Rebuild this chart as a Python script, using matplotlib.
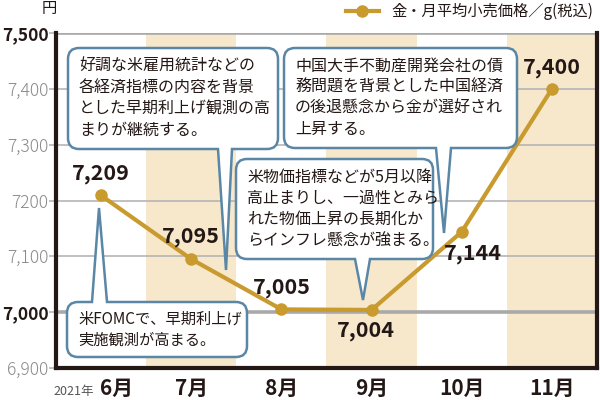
import matplotlib
matplotlib.use("Agg")
import matplotlib.pyplot as plt
from matplotlib.path import Path
from matplotlib.patches import PathPatch, Rectangle
from matplotlib.transforms import Affine2D, ScaledTranslation

plt.rcParams['font.family'] = ['Noto Sans CJK JP', 'DejaVu Sans']

months = ['6月', '7月', '8月', '9月', '10月', '11月']
prices = [7209, 7095, 7005, 7004, 7144, 7400]
price_labels = ['7,209', '7,095', '7,005', '7,004', '7,144', '7,400']
label_offsets = [(0, 16), (0, 16), (0, 16), (-4, -15), (8, -16), (0, 15)]
yticks = [6900, 7000, 7100, 7200, 7300, 7400, 7500]
ytick_labels = ['6,900', '7,000', '7,100', '7200', '7,300', '7,400', '7,500']
bold_ticks = [7000, 7500]
legend_text = '金・月平均小売価格／g(税込)'

notes = [
    '好調な米雇用統計などの\n各経済指標の内容を背景\nとした早期利上げ観測の高\nまりが継続する。',
    '中国大手不動産開発会社の債\n務問題を背景とした中国経済\nの後退懸念から金が選好され\n上昇する。',
    '米物価指標などが5月以降\n高止まりし、一過性とみら\nれた物価上昇の長期化か\nらインフレ懸念が強まる。',
    '米FOMCで、早期利上げ\n実施観測が高まる。',
]
note_sizes = [11.5, 11.5, 11.5, 11]

gold = '#c99a2e'
shade = '#f7e8cc'
edge = '#5a87a6'

fig = plt.figure(figsize=(6, 4), dpi=100)
ax = fig.add_axes([56 / 600, 1 - 368 / 400, 541 / 600, 335 / 400])

x = list(range(len(months)))
for i in x:
    if i % 2 == 1:
        ax.add_patch(Rectangle((i - 0.5, 6900), 1, 600, color=shade, zorder=0, lw=0))

for t in yticks:
    if t in bold_ticks:
        ax.axhline(t, color='#a9a9a9', lw=2.6, zorder=1)
    else:
        ax.axhline(t, color='#b5b5b5', lw=1.2, zorder=1)

ax.plot(x, prices, color=gold, lw=3, marker='o', ms=8, zorder=3)
for xi, p, lab, off in zip(x, prices, price_labels, label_offsets):
    ax.annotate(lab, (xi, p), xytext=off, textcoords='offset points',
                ha='center', va='center', fontsize=15.5, fontweight='bold',
                color='#231815', zorder=4)

ax.set_xlim(-0.5, 5.5)
ax.set_ylim(6900, 7500)
ax.set_yticks(yticks)
ax.set_yticklabels(ytick_labels)
for t, lab in zip(yticks, ax.get_yticklabels()):
    if t in bold_ticks:
        lab.set_fontweight('bold')
        lab.set_color('#231815')
        lab.set_fontsize(12.5)
    else:
        lab.set_color('#8a8a8a')
        lab.set_fontsize(12.5)
        lab.set_fontweight('light')
ax.tick_params(axis='y', length=5, color='#b5b5b5', width=1.2, pad=0.5)
ax.set_xticks(x)
ax.set_xticklabels(months, fontsize=15, fontweight='bold', color='#231815')
ax.tick_params(axis='x', length=0, pad=7)
first = ax.get_xticklabels()[0]
first.set_transform(first.get_transform() + ScaledTranslation(0.15, 0, fig.dpi_scale_trans))
for s in ['left', 'bottom', 'right']:
    ax.spines[s].set_linewidth(3)
    ax.spines[s].set_color('#231815')
ax.spines['top'].set_visible(False)

fig.text(49 / 600, 1 - 9 / 400, '円', ha='center', va='center', fontsize=11, color='#231815')
fig.text(94 / 600, 1 - 391 / 400, '2021年', ha='right', va='center', fontsize=9, color='#555555')

# legend
ax.plot([], [], color=gold, lw=3, marker='o', ms=8, label=legend_text)
leg = ax.legend(loc='lower right', bbox_to_anchor=(1.01, 1.01), frameon=False,
                fontsize=11, handlelength=2.2, borderaxespad=0.2)
for t in leg.get_texts():
    t.set_color('#231815')

# callouts in pixel coords (y down)
pix = Affine2D().scale(1 / 100, -1 / 100).translate(0, 4) + fig.dpi_scale_trans


def callout(x0, y0, x1, y1, side, tx0, tx1, tip, r=11):
    v = [(x0 + r, y0)]
    c = [Path.MOVETO]
    if side == 'top':
        v += [(tx0, y0), tip, (tx1, y0)]
        c += [Path.LINETO] * 3
    v += [(x1 - r, y0), (x1, y0), (x1, y0 + r), (x1, y1 - r), (x1, y1), (x1 - r, y1)]
    c += [Path.LINETO, Path.CURVE3, Path.CURVE3, Path.LINETO, Path.CURVE3, Path.CURVE3]
    if side == 'bottom':
        v += [(tx1, y1), tip, (tx0, y1)]
        c += [Path.LINETO] * 3
    v += [(x0 + r, y1), (x0, y1), (x0, y1 - r), (x0, y0 + r), (x0, y0), (x0 + r, y0)]
    c += [Path.LINETO, Path.CURVE3, Path.CURVE3, Path.LINETO, Path.CURVE3, Path.CURVE3]
    patch = PathPatch(Path(v, c), facecolor='white', edgecolor=edge, lw=1.8,
                      transform=pix, zorder=6, clip_on=False)
    fig.add_artist(patch)


boxes = [
    (68, 48, 278, 149, 'bottom', 218, 232, (226, 270)),
    (284, 48, 517, 148, 'bottom', 436, 451, (444, 233)),
    (236, 159, 433, 259, 'bottom', 355, 370, (363, 300)),
    (67, 302, 247, 357, 'top', 92, 107, (99, 208)),
]
for (x0, y0, x1, y1, side, tx0, tx1, tip), txt, fs in zip(boxes, notes, note_sizes):
    callout(x0, y0, x1, y1, side, tx0, tx1, tip)
    fig.text((x0 + 11) / 600, 1 - (y0 + y1) / 2 / 400, txt, ha='left', va='center',
             fontsize=fs, linespacing=1.33, color='#231815', zorder=7)

fig.savefig('out.png', dpi=100)
